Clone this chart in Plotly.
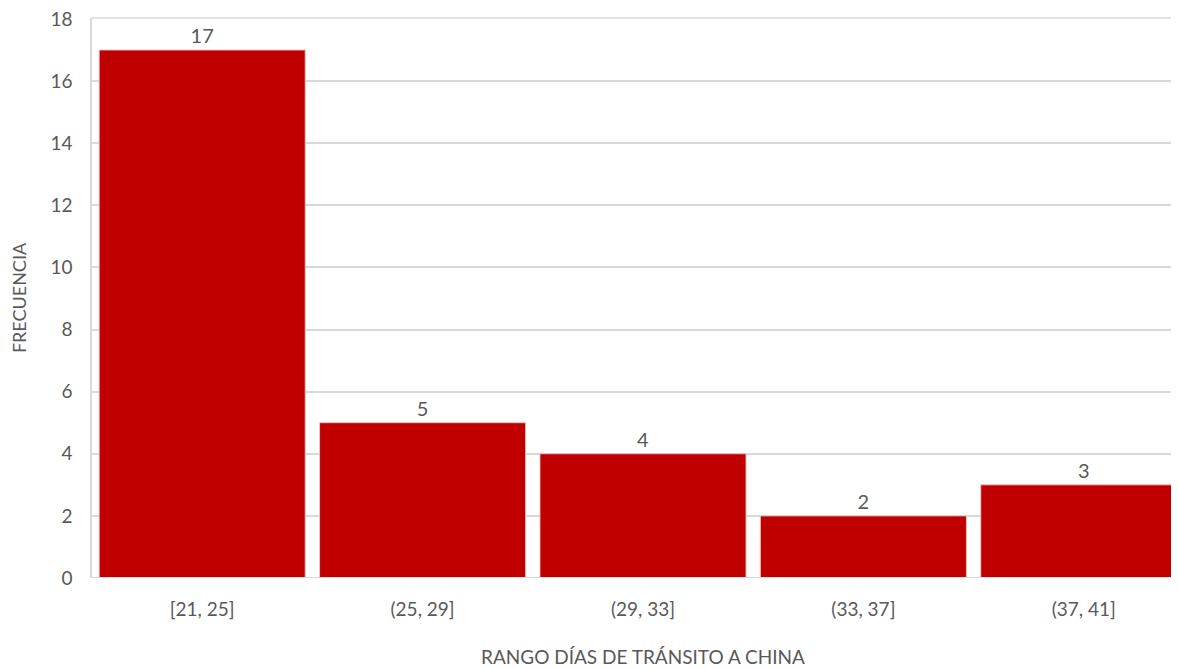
import plotly.graph_objects as go

categories = ["[21, 25]", "(25, 29]", "(29, 33]", "(33, 37]", "(37, 41]"]
frecuencia = [17, 5, 4, 2, 3]
y_ticks = [0, 2, 4, 6, 8, 10, 12, 14, 16, 18]

FONT = "Lato"
GRAY = "#595959"

fig = go.Figure()
fig.add_trace(go.Bar(
    x=list(range(len(categories))),
    y=frecuencia,
    width=0.935,
    marker=dict(color="#C00000", line=dict(color="rgba(235,200,200,0.9)", width=1)),
    text=[str(v) for v in frecuencia],
    textposition="outside",
    textfont=dict(family=FONT, size=20, color=GRAY),
    cliponaxis=False,
))

fig.add_shape(type="line", xref="paper", yref="y", x0=0, x1=1, y0=0, y1=0,
              line=dict(color="#d9d9d9", width=2), layer="above")
fig.add_shape(type="line", xref="paper", yref="paper", x0=0, x1=1, y0=1, y1=1,
              line=dict(color="#d9d9d9", width=1.5), layer="below")

fig.add_annotation(text="RANGO DÍAS DE TRÁNSITO A CHINA", x=2, xref="x",
                   y=-0.141, yref="paper", yanchor="middle", showarrow=False,
                   font=dict(family=FONT, size=19, color=GRAY))

fig.update_layout(
    width=1171, height=660,
    margin=dict(l=84, r=0, t=10, b=90),
    paper_bgcolor="white", plot_bgcolor="white",
    showlegend=False,
    bargap=0.065,
    font=dict(family=FONT, color=GRAY),
    xaxis=dict(
        range=[-0.5, 4.432],
        tickmode="array", tickvals=list(range(len(categories))), ticktext=categories,
        tickfont=dict(family=FONT, size=19, color=GRAY),
        ticks="", showgrid=False, zeroline=False, showline=False,
        ticklabelstandoff=18,
    ),
    yaxis=dict(
        range=[0, 18.03],
        tickmode="array", tickvals=y_ticks,
        tickfont=dict(family=FONT, size=19, color=GRAY),
        ticklabeloverflow="allow",
        showgrid=True, gridcolor="#d9d9d9", gridwidth=1.5,
        zeroline=False, showline=True, linecolor="#d9d9d9", linewidth=1.5,
        ticks="", ticklabelstandoff=14,
        title=dict(text="FRECUENCIA", font=dict(family=FONT, size=18, color=GRAY), standoff=24),
    ),
)

fig.write_html("out.html")
